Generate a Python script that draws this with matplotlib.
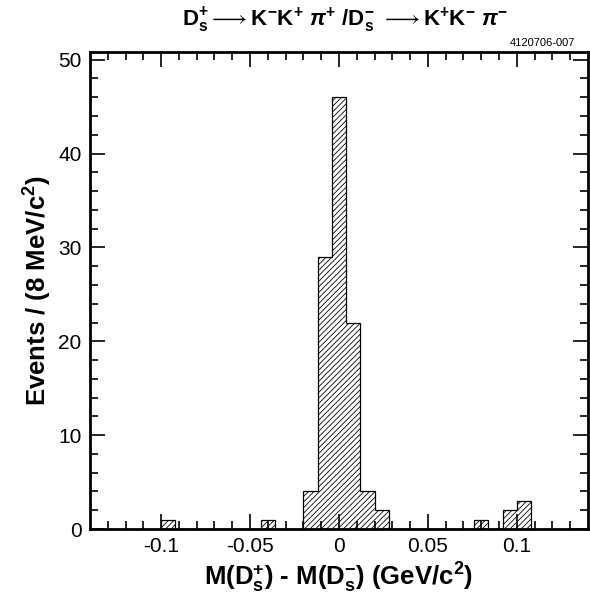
import numpy as np
import matplotlib
matplotlib.use("Agg")
import matplotlib.pyplot as plt

# data: histogram bins of 8 MeV (lower edges and counts)
bin_lo = [-0.100, -0.044, -0.020, -0.012, -0.004, 0.004, 0.012, 0.020, 0.076, 0.092, 0.100]
counts = [1, 1, 4, 29, 46, 22, 4, 2, 1, 2, 3]
bin_w = 0.008

# full grid of bins so the outline is drawn as one histogram
edges = np.round(np.arange(-0.100, 0.1081, bin_w), 4)
vals = np.zeros(len(edges) - 1)
for lo, c in zip(bin_lo, counts):
    vals[int(round((lo - edges[0]) / bin_w))] = c

plt.rcParams['font.family'] = ['Liberation Sans', 'DejaVu Sans']
plt.rcParams['mathtext.fontset'] = 'custom'
plt.rcParams['mathtext.rm'] = 'Liberation Sans:bold'
plt.rcParams['mathtext.it'] = 'Liberation Sans:bold:italic'
plt.rcParams['mathtext.bf'] = 'Liberation Sans:bold'
plt.rcParams['hatch.linewidth'] = 0.6

fig = plt.figure(figsize=(5.9, 5.96), dpi=100)
ax = fig.add_axes([0.1525, 0.1124, 0.844, 0.800])

ax.stairs(vals, edges, fill=True, facecolor='white', edgecolor='black', hatch='//////', linewidth=0)
ax.stairs(vals, edges, color='black', linewidth=0.9)
ax.plot([edges[0], edges[-1]], [0, 0], color='black', linewidth=0.9)

ax.set_xlim(-0.14, 0.14)
ax.set_ylim(0, 50.8)
ax.set_xticks([-0.1, -0.05, 0, 0.05, 0.1])
ax.set_xticklabels(['-0.1', '-0.05', '0', '0.05', '0.1'])
ax.set_xticks(np.arange(-0.13, 0.135, 0.01), minor=True)
ax.set_yticks([0, 10, 20, 30, 40, 50])
ax.set_yticks(np.arange(0, 51, 2), minor=True)
ax.tick_params(which='both', direction='in', top=True, right=True, width=1.2, labelsize=15)
ax.tick_params(which='major', length=11, pad=6)
ax.tick_params(which='minor', length=6)
for s in ax.spines.values():
    s.set_linewidth(2)

ax.set_xlabel(r'M(D$_\mathrm{s}^{+}$) - M(D$_\mathrm{s}^{-}$) (GeV/c$^\mathrm{2}$)', fontsize=18.5, fontweight='bold', labelpad=3)
ax.set_ylabel(r'Events / (8 MeV/c$^\mathrm{2}$)', fontsize=18.5, fontweight='bold', labelpad=3)

fig.text(0.585, 0.966, r'D$_\mathrm{s}^{+}$$\longrightarrow$K$^{-}$K$^{+}$ $\pi^{+}$ /D$_\mathrm{s}^{-}$ $\longrightarrow$K$^{+}$K$^{-}$ $\pi^{-}$',
         ha='center', va='center', fontsize=16, fontweight='bold')
fig.text(0.975, 0.928, '4120706-007', ha='right', va='center', fontsize=8)

fig.savefig('out.png', dpi=100)
